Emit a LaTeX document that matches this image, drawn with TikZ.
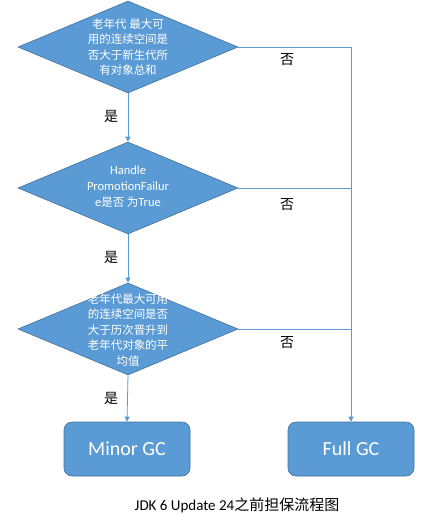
\documentclass[tikz,border=0pt]{standalone}
\usepackage{fontspec}
\setmainfont{Carlito}
\newfontfamily\cjk{Noto Sans CJK SC}
\usetikzlibrary{shapes.geometric,arrows.meta}
\definecolor{boxblue}{HTML}{5B9BD5}
\definecolor{edgeblue}{HTML}{41719C}
\begin{document}
\begin{tikzpicture}[x=1pt,y=-1pt,
  dia/.style={diamond, fill=boxblue, draw=edgeblue, line width=0.6pt,
    minimum width=220pt, minimum height=92pt, inner sep=0pt},
  dtxt/.style={text=white, align=center, inner sep=0pt,
    font=\cjk\fontsize{11.5}{15.5}\selectfont},
  gcbox/.style={rectangle, rounded corners=8pt, fill=boxblue, draw=edgeblue,
    line width=0.6pt, minimum width=126pt, minimum height=54pt, text=white,
    font=\fontsize{20}{24}\selectfont},
  lab/.style={font=\cjk\fontsize{14}{16}\selectfont, text=black, inner sep=0pt},
  conn/.style={draw=boxblue, line width=0.8pt},
  arr/.style={conn, -{Triangle[length=5pt,width=5pt]}}
]
\useasboundingbox (0,0) rectangle (424,528);
% diamonds
\node[dia] (d1) at (128,47) {};
\node[dtxt] (t1) at (128,47) {老年代 最大可\\用的连续空间是\\否大于新生代所\\有对象总和};
\node[dia] (d2) at (128,188) {};
\node[dtxt, font=\fontsize{12.5}{16}\selectfont] (t2) at (128,187) {Handle\\PromotionFailur\\e{\cjk\fontsize{11.5}{16}\selectfont 是否 为}True};
\node[dia] (d3) at (128,329) {};
\node[dtxt] (t3) at (128,330) {老年代最大可用\\的连续空间是否\\大于历次晋升到\\老年代对象的平\\均值};
% result boxes
\node[gcbox] (mg) at (127,449) {Minor GC};
\node[gcbox] (fg) at (351,449) {Full GC};
% connectors
\draw[arr] (d1.south) -- (d2.north);
\draw[arr] (d2.south) -- (d3.north);
\draw[arr] (d3.south) -- (mg.north);
\draw[arr] (d1.east) -| (fg.north);
\draw[conn] (d2.east) -- (d2.east -| fg.north);
\draw[conn] (d3.east) -- (d3.east -| fg.north);
% labels
\node[lab] (y1) at (111,116) {是};
\node[lab] (y2) at (111,257) {是};
\node[lab] (y3) at (111,398) {是};
\node[lab] (n1) at (287,60) {否};
\node[lab] (n2) at (287,205) {否};
\node[lab] (n3) at (287,343) {否};
% caption
\node[font=\fontsize{15}{18}\selectfont] (cap) at (237,505) {JDK 6 Update 24{\cjk 之前担保流程图}};
\end{tikzpicture}
\end{document}
